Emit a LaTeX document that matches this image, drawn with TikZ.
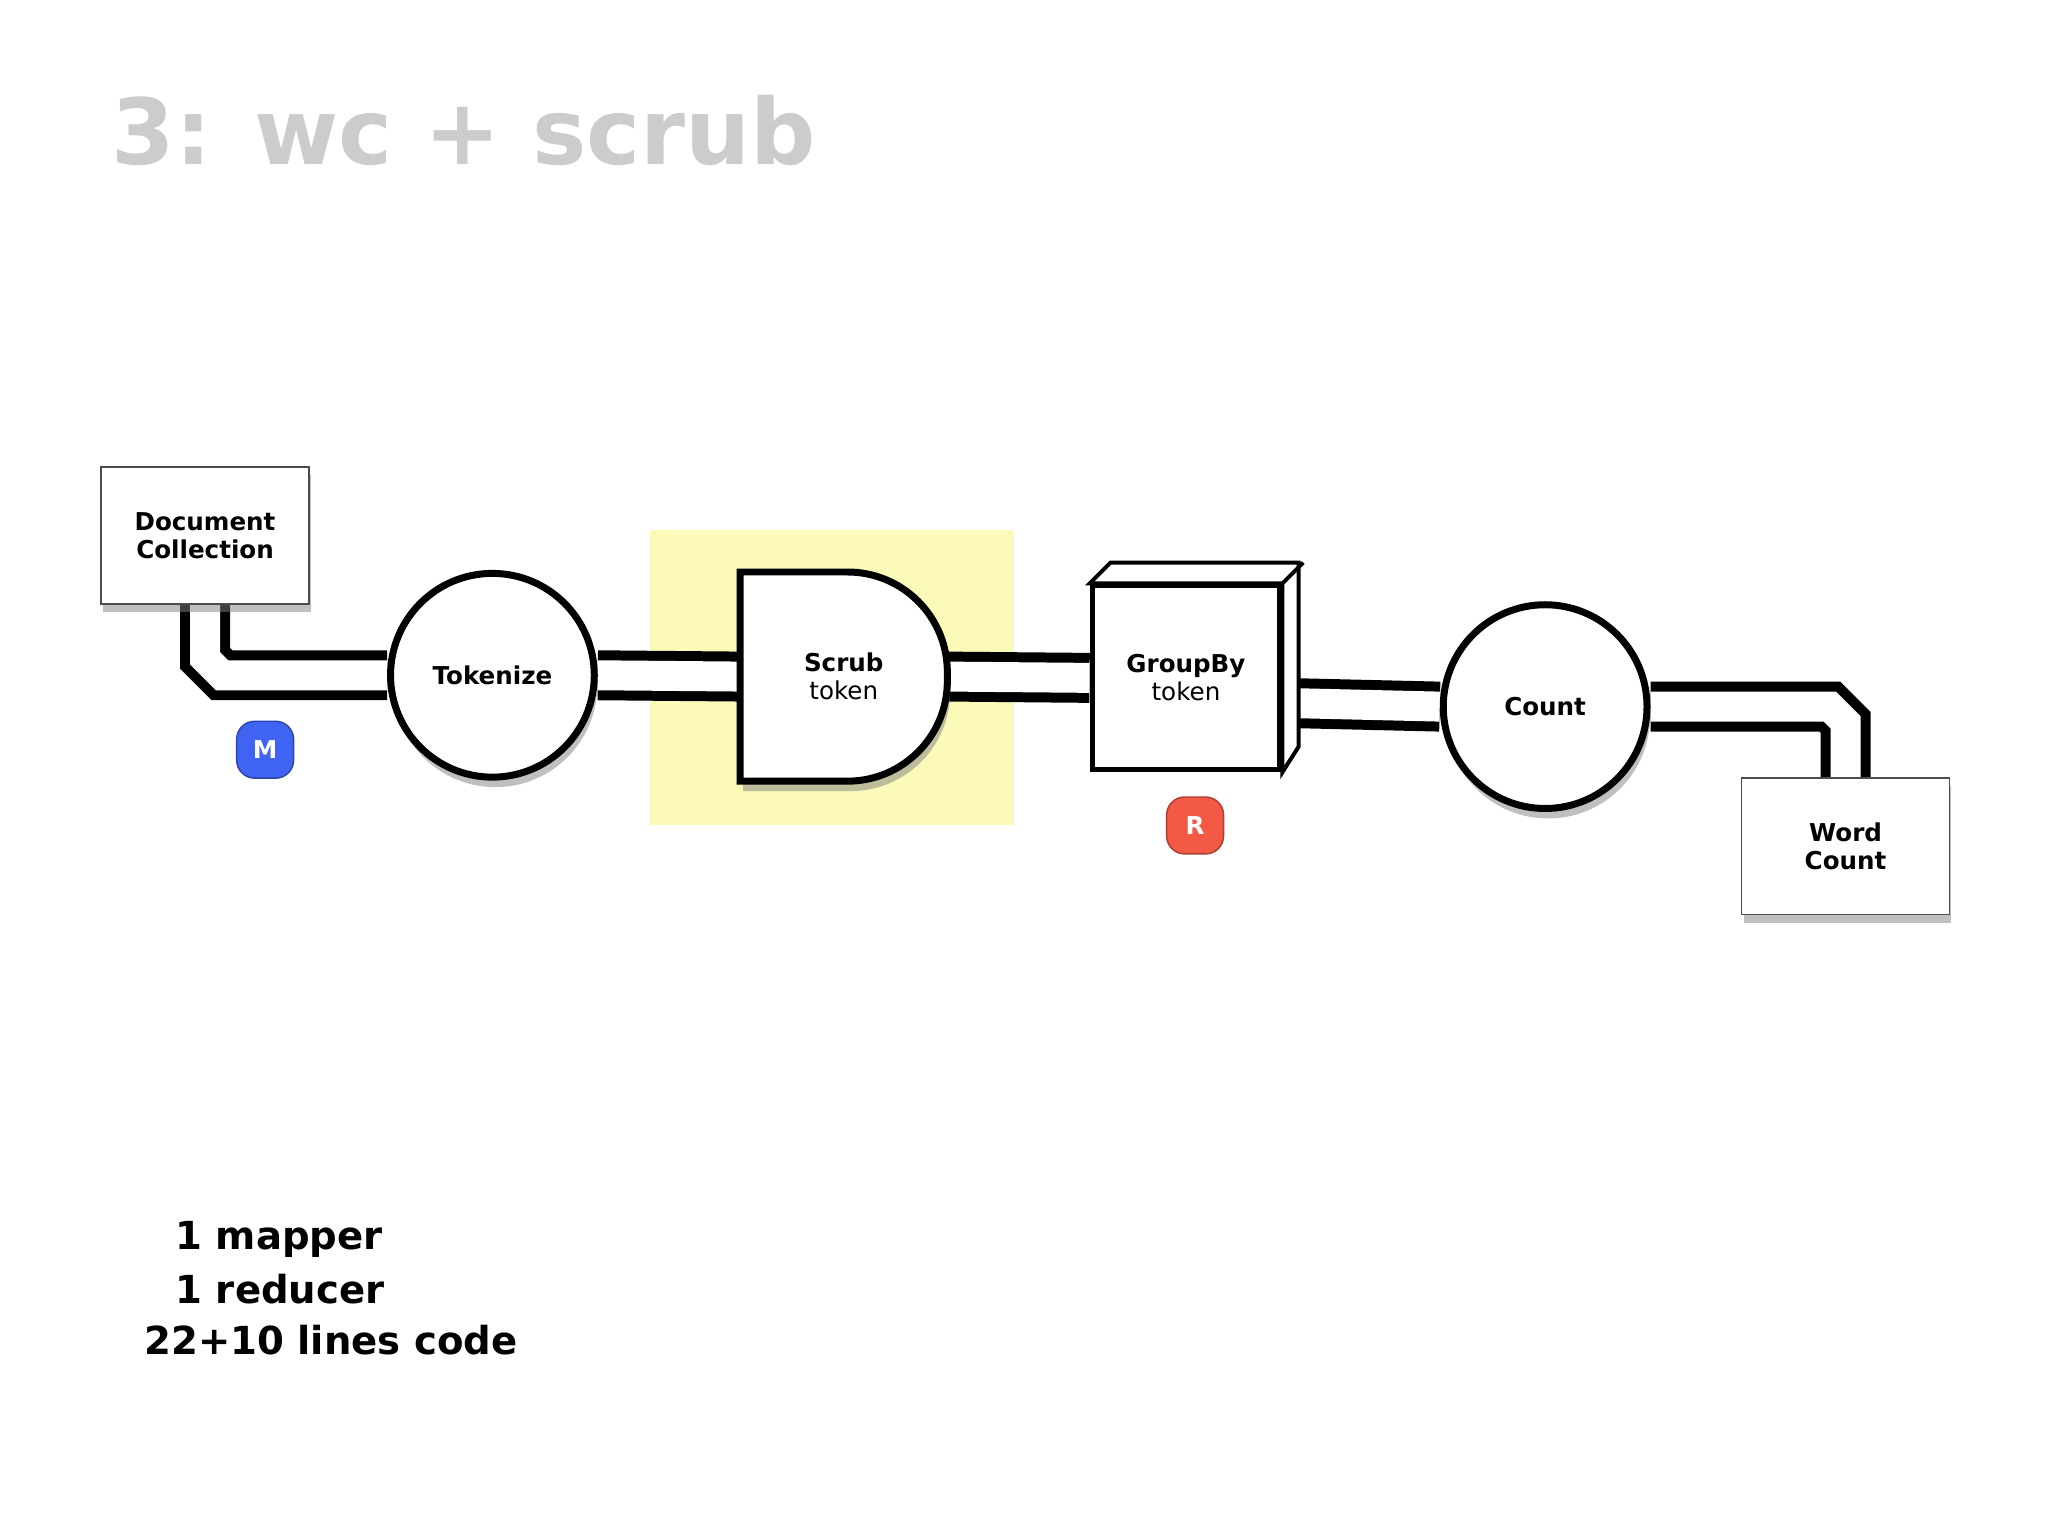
\documentclass[tikz,border=0pt]{standalone}
\usepackage{fontspec}
\setmainfont{DejaVu Sans}
\usetikzlibrary{shadows,backgrounds}
\definecolor{hilite}{HTML}{FBFAB8}
\definecolor{mblue}{HTML}{3F63F2}
\definecolor{rred}{HTML}{F25A45}
\tikzset{
	store/.style={draw=black!70, thin, fill=white, minimum width=2.08cm, minimum height=1.37cm, align=center, font=\fontsize{7}{8}\selectfont\bfseries, drop shadow={shadow xshift=0.02cm, shadow yshift=-0.08cm, opacity=0.5}},
	process/.style={circle, draw=black, line width=0.07cm, fill=white, minimum size=2.04cm, font=\fontsize{7}{8}\selectfont\bfseries, drop shadow={shadow xshift=0.03cm, shadow yshift=-0.1cm, opacity=0.5}},
	pipe/.style={line width=0.1cm, double=white, double distance=0.3cm},
	badge/.style={rounded corners=0.18cm, minimum size=0.57cm, text=white, font=\fontsize{7}{8}\selectfont\bfseries, inner sep=0pt},
}
\begin{document}
\begin{tikzpicture}[x=0.01307cm, y=-0.01307cm]
	\useasboundingbox (0,0) rectangle (1568,1176);
	% title
	\node[anchor=west, text=black!20, font=\fontsize{26}{30}\selectfont\bfseries] (title) at (76,100) {3: wc + scrub};
	% nodes
	\node[store] (doc) at (157,410) {Document\\Collection};
	\node[process] (tok) at (377,517) {Tokenize};
	\node[minimum width=2.06cm, minimum height=2.08cm, inner sep=0pt] (scrub) at (646,518) {};
	\draw[line width=0.07cm, fill=white, drop shadow={shadow xshift=0.03cm, shadow yshift=-0.1cm, opacity=0.5}] (scrub.south west) -- (scrub.north west) -- ([xshift=-1cm]scrub.north east) arc[start angle=90, end angle=0, radius=1cm] -- ([yshift=1cm]scrub.south east) arc[start angle=0, end angle=-90, radius=1cm] -- cycle;
	\node[align=center, font=\fontsize{7}{8}\selectfont] (scrubtxt) at (646,518) {\textbf{Scrub}\\token};
	\node[draw=black, line width=0.05cm, fill=white, minimum width=1.88cm, minimum height=1.84cm, inner sep=0pt, align=center, font=\fontsize{7}{8}\selectfont] (group) at (908,519) {\textbf{GroupBy}\\token};
	\draw[line width=0.04cm, fill=white] (group.north west) -- ++(16,-16) -- ++(144,0) -- ++(0,141) -- (group.south east) -- (group.north east) -- cycle;
	\draw[line width=0.04cm] (group.north east) -- ++(16,-16);
	\node[process] (count) at (1183,541) {Count};
	\node[store] (word) at (1413,648) {Word\\Count};
	\node[badge, fill=mblue, draw=mblue!70!black] (m) at (203,574) {M};
	\node[badge, fill=rred, draw=rred!70!black] (r) at (915,632) {R};
	% pipes and highlight
	\begin{scope}[on background layer]
		\fill[hilite] (498,406) rectangle (776,632);
		\draw[pipe] (doc.south) -- (157,504) -- (170,517) -- (tok.west);
		\draw[pipe] (tok.east) -- (scrub.west);
		\draw[pipe] (scrub.east) -- (group.west);
		\draw[pipe] ([yshift=-0.25cm]group.east) -- (count.west);
		\draw[pipe] (count.east) -- (1401,541) -- (1413,553) -- (word.north);
	\end{scope}
	% summary
	\node[anchor=west, font=\fontsize{11}{13}\selectfont\bfseries] (l1) at (125,949) {1 mapper};
	\node[anchor=west, font=\fontsize{11}{13}\selectfont\bfseries] (l2) at (125,987) {1 reducer};
	\node[anchor=west, font=\fontsize{11}{13}\selectfont\bfseries] (l3) at (101,1026) {22+10 lines code};
\end{tikzpicture}
\end{document}
